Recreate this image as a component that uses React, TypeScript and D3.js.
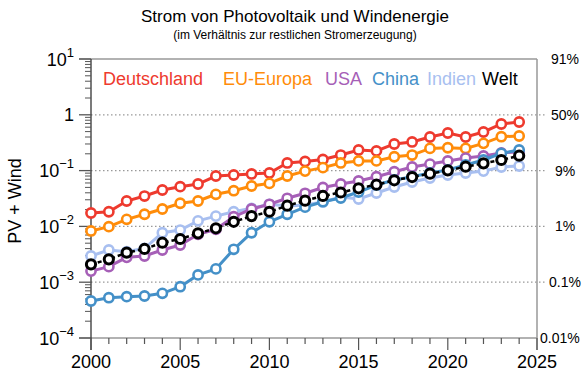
import React from "react";
import * as d3 from "d3";

const years = d3.range(2000, 2025);

const deutschland = [0.0174, 0.0183, 0.0285, 0.035, 0.0449, 0.0515, 0.0575, 0.08, 0.0834, 0.087, 0.0906, 0.137, 0.146, 0.158, 0.19, 0.234, 0.225, 0.30, 0.326, 0.40, 0.472, 0.40, 0.492, 0.684, 0.743];
const euEuropa = [0.00828, 0.00988, 0.0134, 0.0165, 0.0205, 0.026, 0.0285, 0.0376, 0.0436, 0.053, 0.059, 0.08, 0.098, 0.113, 0.137, 0.149, 0.149, 0.177, 0.19, 0.25, 0.257, 0.25, 0.308, 0.405, 0.417];
const usa = [0.00158, 0.0019, 0.00279, 0.00295, 0.00378, 0.00464, 0.00721, 0.00887, 0.0149, 0.0205, 0.0249, 0.0319, 0.0392, 0.0498, 0.0575, 0.0652, 0.0778, 0.0955, 0.116, 0.131, 0.149, 0.168, 0.183, 0.207, 0.218];
const china = [0.00046, 0.000527, 0.00055, 0.000566, 0.000632, 0.00083, 0.00135, 0.00173, 0.00389, 0.0077, 0.0121, 0.0165, 0.0221, 0.0277, 0.0323, 0.0413, 0.0552, 0.068, 0.0778, 0.0906, 0.1026, 0.126, 0.155, 0.204, 0.234];
const indien = [0.00295, 0.00378, 0.00352, 0.00405, 0.0077, 0.0086, 0.0126, 0.0153, 0.0183, 0.0211, 0.0249, 0.0232, 0.0242, 0.0274, 0.0337, 0.031, 0.0397, 0.0508, 0.0625, 0.0736, 0.0834, 0.0906, 0.098, 0.116, 0.121];
const welt = [0.00209, 0.00257, 0.00338, 0.00394, 0.0051, 0.00594, 0.00751, 0.00925, 0.0121, 0.0153, 0.0183, 0.0235, 0.0289, 0.0351, 0.0405, 0.0482, 0.0559, 0.067, 0.0767, 0.088, 0.101, 0.1175, 0.135, 0.155, 0.185];

const seriesNames = ["Deutschland", "EU-Europa", "USA", "China", "Indien", "Welt"];
const seriesColors = ["#ee3a2e", "#ff8c0a", "#a65fb7", "#4490c8", "#a8bff0", "#000000"];
const seriesData = [deutschland, euEuropa, usa, china, indien, welt];
const drawOrder = [0, 1, 4, 2, 3, 5];

const yMajor = [10, 1, 0.1, 0.01, 0.001, 0.0001];
const yExp = ["1", "", "−1", "−2", "−3", "−4"];
const rightLabels = ["91%", "50%", "9%", "1%", "0.1%", "0.01%"];
const xMajor = [2000, 2005, 2010, 2015, 2020, 2025];

const title = "Strom von Photovoltaik und Windenergie";
const subtitle = "(im Verhältnis zur restlichen Stromerzeugung)";
const yTitle = "PV + Wind";

const legendX = [103, 223, 325, 372, 427, 482];

export default function App() {
  const W = 588, H = 378;
  const x0 = 91, x1 = 537, yTop = 59, yBot = 338;
  const x = d3.scaleLinear().domain([2000, 2025]).range([x0, x1]);
  const y = d3.scaleLog().domain([1e-4, 10]).range([yBot, yTop]);
  const line = d3.line<number>().x((_, i) => x(years[i])).y((v) => y(v));
  const font = "Liberation Sans, Arial, Helvetica, sans-serif";

  const minor: number[] = [];
  for (let e = -4; e < 1; e++) {
    for (let m = 2; m <= 9; m++) minor.push(m * Math.pow(10, e));
  }
  const xMinor = d3.range(2000, 2026);

  return (
    <svg width={W} height={H} style={{ position: "absolute", left: 0, top: 0 }} fontFamily={font}>
      <rect width={W} height={H} fill="white" />
      <text x={295} y={22} textAnchor="middle" fontSize={17}>{title}</text>
      <text x={295} y={39} textAnchor="middle" fontSize={12}>{subtitle}</text>

      {/* gridlines */}
      {yMajor.slice(1, 5).map((v) => (
        <line key={"g" + v} x1={x0} x2={545} y1={y(v)} y2={y(v)} stroke="#999" strokeWidth={1.2} strokeDasharray="1.5,2.5" />
      ))}

      {/* frame */}
      <line x1={79} x2={x1} y1={yTop} y2={yTop} stroke="#999" strokeWidth={1.5} />
      <line x1={79} x2={x1} y1={yBot} y2={yBot} stroke="#999" strokeWidth={1.5} />
      <line x1={x1} x2={x1} y1={yTop} y2={350} stroke="#999" strokeWidth={1.5} />
      <line x1={x0} x2={x0} y1={yTop} y2={350} stroke="#333" strokeWidth={1.3} />

      {/* y ticks */}
      {yMajor.map((v) => (
        <line key={"yt" + v} x1={79} x2={x0} y1={y(v)} y2={y(v)} stroke="#555" strokeWidth={1.3} />
      ))}
      {minor.map((v) => (
        <line key={"ym" + v} x1={85} x2={x0} y1={y(v)} y2={y(v)} stroke="#555" strokeWidth={1} />
      ))}
      {/* x ticks */}
      {xMinor.map((yr) => (
        <line key={"xt" + yr} x1={x(yr)} x2={x(yr)} y1={yBot} y2={yr % 5 === 0 ? 350 : 344} stroke="#555" strokeWidth={1.2} />
      ))}

      {/* y labels */}
      {yMajor.map((v, i) => (
        <text key={"yl" + v} x={74} y={y(v) + 6.5} textAnchor="end" fontSize={18}>
          {yExp[i] === "" ? "1" : (
            <>
              <tspan>10</tspan>
              <tspan dy={-9} fontSize={13}>{yExp[i]}</tspan>
            </>
          )}
        </text>
      ))}
      {/* right labels */}
      {yMajor.map((v, i) => (
        <text key={"rl" + v} x={i === 5 ? 540 : 565} y={y(v) + 5} textAnchor={i === 5 ? "start" : "middle"} fontSize={14}>
          {rightLabels[i]}
        </text>
      ))}
      {/* x labels */}
      {xMajor.map((yr) => (
        <text key={"xl" + yr} x={x(yr)} y={368} textAnchor="middle" fontSize={18}>{yr}</text>
      ))}

      <text transform={`translate(21,201) rotate(-90)`} textAnchor="middle" fontSize={18}>{yTitle}</text>

      {/* series */}
      {drawOrder.map((si) => {
        const data = seriesData[si];
        const c = seriesColors[si];
        const isWelt = si === 5;
        return (
          <g key={"s" + si}>
            <path d={line(data) || ""} fill="none" stroke={c} strokeWidth={isWelt ? 2.5 : 3} strokeDasharray={isWelt ? "4,3" : undefined} />
            {data.map((v, i) => (
              <circle key={i} cx={x(years[i])} cy={y(v)} r={4.6} fill="white" stroke={c} strokeWidth={isWelt ? 3 : 2.6} />
            ))}
          </g>
        );
      })}

      {/* legend */}
      {seriesNames.map((n, i) => (
        <text key={"lg" + n} x={legendX[i]} y={85} fontSize={18} fill={seriesColors[i]}>{n}</text>
      ))}
    </svg>
  );
}
